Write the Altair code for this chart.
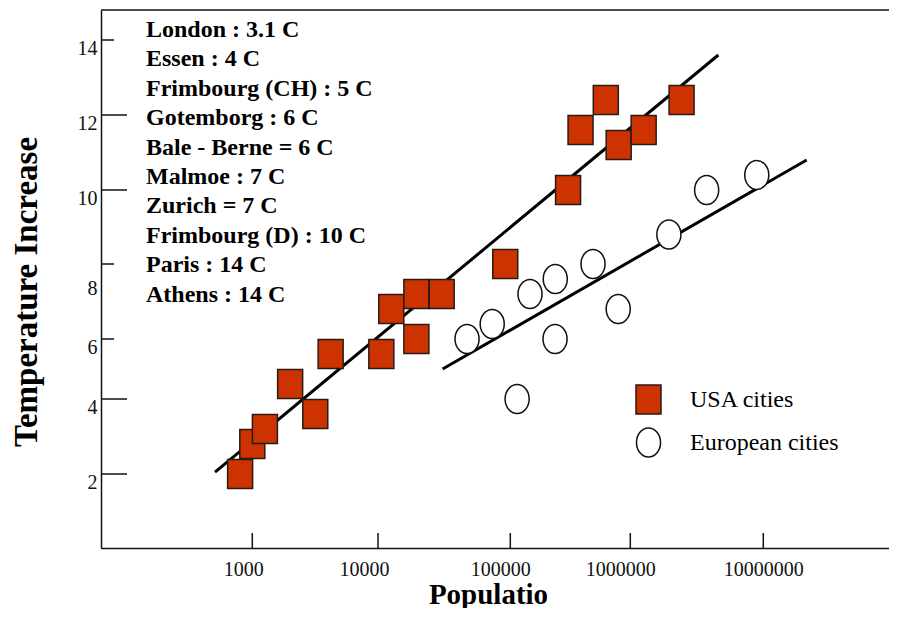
import altair as alt
import pandas as pd

# ---- data ----
usa_pop = [800, 1000, 1260, 2000, 3170, 4200, 10600, 12600, 19500, 19500, 30300,
           91600, 303000, 385000, 625000, 800000, 1260000, 2430000]
usa_temp = [2.0, 2.8, 3.2, 4.5, 3.6, 5.5, 5.5, 6.8, 6.0, 7.2, 7.2,
            8.0, 10.0, 11.6, 12.4, 11.2, 11.6, 12.4]

eu_pop = [47100, 73000, 114000, 146000, 237000, 236000, 489000, 793000,
          1950000, 3750000, 8930000]
eu_temp = [6.0, 6.4, 4.0, 7.2, 7.6, 6.0, 8.0, 6.8, 8.8, 10.0, 10.4]

usa_line_pop = [505, 4590000]
usa_line_temp = [2.05, 13.6]
eu_line_pop = [30800, 21100000]
eu_line_temp = [5.0, 10.8]

series_names = ["USA cities", "European cities"]

city_notes = [
    "London : 3.1 C",
    "Essen : 4 C",
    "Frimbourg (CH) : 5 C",
    "Gotemborg  : 6 C",
    "Bale - Berne = 6 C",
    "Malmoe  : 7 C",
    "Zurich = 7 C",
    "Frimbourg (D) : 10 C",
    "Paris : 14 C",
    "Athens : 14 C",
]

x_tick_values = [1000, 10000, 100000, 1000000, 10000000]
y_tick_values = [2, 4, 6, 8, 10, 12, 14]
y_ticks_short = [14, 8, 6]
y_ticks_long = [12, 10, 4, 2]

# ---- layout ----
W, H = 788, 538
FONT = "Liberation Serif"

x_domain = [62.6, 1e3, 1e4, 1e5, 1e6, 1e7, 8.71e7]
x_range = [0, 151.3, 277, 409.3, 529.3, 662.3, 788]
y_domain = [0, 2, 4, 6, 8, 10, 12, 14, 14.8]
y_range = [538, 464, 389, 329, 254, 180, 105, 30, 0]

xs = alt.Scale(type="log", domain=x_domain, range=x_range, nice=False)
ys = alt.Scale(type="linear", domain=y_domain, range=y_range, nice=False, zero=False)

x_axis = alt.Axis(
    values=x_tick_values, format="d", ticks=False, tickSize=0, grid=False,
    domainColor="#111", domainWidth=1.5,
    labelFont=FONT, labelFontSize=20, labelColor="#111", labelPadding=11,
    labelOffset={"condition": [
        {"test": "datum.value == 1000", "value": -9},
        {"test": "datum.value == 10000", "value": -14},
        {"test": "datum.value == 100000", "value": -10},
        {"test": "datum.value == 1000000", "value": -10},
    ], "value": 0},
    title="Populatio", titleFont=FONT, titleFontSize=29, titleFontWeight="bold",
    titleColor="#000", titleX=387, titleY=55, titleBaseline="alphabetic",
    titleAlign="center",
)
y_axis = alt.Axis(
    values=y_tick_values, ticks=False, tickSize=0, grid=False,
    domainColor="#111", domainWidth=1.5,
    labelFont=FONT, labelFontSize=20, labelColor="#111", labelPadding=4,
    labelOffset={"condition": {"test": "datum.value == 8", "value": 24}, "value": 8},
    title="Temperature Increase", titleFont=FONT, titleFontSize=33,
    titleFontWeight="bold", titleColor="#000", titleAngle=270,
    titleX=-75, titleY=281.5, titleAlign="center", titleBaseline="middle",
)


def X():
    return alt.X("pop:Q", scale=xs, axis=x_axis)


def Y():
    return alt.Y("temp:Q", scale=ys, axis=y_axis)


pts = pd.DataFrame({
    "pop": usa_pop + eu_pop,
    "temp": usa_temp + eu_temp,
    "series": [series_names[0]] * len(usa_pop) + [series_names[1]] * len(eu_pop),
})
lines = pd.DataFrame({
    "pop": usa_line_pop + eu_line_pop,
    "temp": usa_line_temp + eu_line_temp,
    "series": [series_names[0]] * 2 + [series_names[1]] * 2,
})
xt = pd.DataFrame({"pop": x_tick_values})
yts = pd.DataFrame({"temp": y_ticks_short})
ytl = pd.DataFrame({"temp": y_ticks_long})

rect_path = "M-0.862,-1H0.862V1H-0.862Z"
ellipse_path = "M-0.83,0A0.83,1,0,1,0,0.83,0A0.83,1,0,1,0,-0.83,0Z"

legend = alt.Legend(
    title=None, orient="none", legendX=532, legendY=374, padding=0,
    rowPadding=8, labelOffset=26, symbolSize=841, symbolStrokeWidth=1.5,
    labelFont=FONT, labelFontSize=24, labelColor="#000",
)

frame_top = alt.Chart(pd.DataFrame({"a": [0]})).mark_rule(
    color="#111", strokeWidth=1.5
).encode(x=alt.value(0), x2=alt.value(W), y=alt.value(0))

x_ticks = alt.Chart(xt).mark_rule(color="#111", strokeWidth=1.5).encode(
    x=X(), y=alt.value(H), y2=alt.value(H - 15)
)
y_short = alt.Chart(yts).mark_rule(color="#111", strokeWidth=1.5).encode(
    y=Y(), x=alt.value(0), x2=alt.value(13)
)
y_long = alt.Chart(ytl).mark_rule(color="#111", strokeWidth=1.5).encode(
    y=Y(), x=alt.value(0), x2=alt.value(26)
)

fit_lines = alt.Chart(lines).mark_line(color="#000", strokeWidth=3).encode(
    x=X(), y=Y(), detail="series:N"
)

points = alt.Chart(pts).mark_point(
    filled=True, size=841, strokeWidth=1.5, opacity=1
).encode(
    x=X(), y=Y(),
    shape=alt.Shape("series:N", scale=alt.Scale(domain=series_names,
                                                 range=[rect_path, ellipse_path]),
                    legend=legend),
    fill=alt.Fill("series:N", scale=alt.Scale(domain=series_names,
                                               range=["#CC3300", "#FFFFFF"]),
                  legend=legend),
    stroke=alt.Stroke("series:N", scale=alt.Scale(domain=series_names,
                                                   range=["#2a1a14", "#111111"]),
                      legend=legend),
)

notes = alt.Chart(pd.DataFrame({"a": [0]})).mark_text(
    align="left", baseline="alphabetic", font=FONT, fontSize=24,
    fontWeight="bold", lineHeight=29.4, color="#000"
).encode(text=alt.value(city_notes), x=alt.value(45), y=alt.value(27))

chart = alt.layer(
    frame_top, y_short, y_long, x_ticks, fit_lines, points, notes
).properties(
    width=W, height=H,
    autosize=alt.AutoSizeParams(type="none"),
    padding={"left": 93, "top": 2, "right": 0, "bottom": 60},
    background="white",
).configure_view(stroke="transparent", strokeWidth=0)

chart.save("out.html", embed_options={"renderer": "svg", "actions": False})
